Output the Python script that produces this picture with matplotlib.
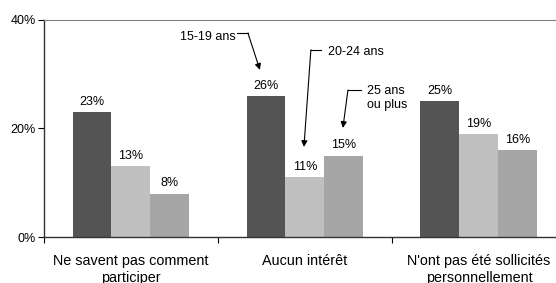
import matplotlib
matplotlib.use("Agg")
import matplotlib.pyplot as plt
import numpy as np

# Chart data
categories = ["Ne savent pas comment\nparticiper", "Aucun intérêt",
              "N'ont pas été sollicités\npersonnellement"]
age_groups = ["15-19 ans", "20-24 ans", "25 ans\nou plus"]
val_15_19 = [23, 26, 25]
val_20_24 = [13, 11, 19]
val_25_plus = [8, 15, 16]
yticks = [0, 20, 40]

colors = ["#545454", "#c0c0c0", "#a6a6a6"]

plt.rcParams["font.family"] = ["Liberation Sans", "DejaVu Sans"]

fig = plt.figure(figsize=(5.56, 2.83), dpi=100)
ax = fig.add_axes([0.0791, 0.1625, 0.9388, 0.767])

x = np.arange(len(categories))
w = 0.224
series = [val_15_19, val_20_24, val_25_plus]
for i, vals in enumerate(series):
    pos = x + (i - 1) * w
    ax.bar(pos, vals, width=w, color=colors[i], zorder=2)
    for xp, v in zip(pos, vals):
        ax.annotate(f"{v}%", (xp, v), xytext=(0, 3), textcoords="offset points",
                    ha="center", va="bottom", fontsize=9)

ax.set_xlim(-0.5, 2.5)
ax.set_ylim(0, 40)
ax.set_yticks(yticks)
ax.set_yticklabels([f"{t}%" for t in yticks], fontsize=9)
ax.set_xticks(x)
ax.set_xticklabels(categories, fontsize=10.4, va="top", linespacing=1.3)
ax.tick_params(axis="x", length=0, pad=12)
ax.set_xticks(np.arange(-0.5, 3, 1), minor=True)
ax.tick_params(axis="x", which="minor", length=4, direction="out", width=0.8)
ax.tick_params(axis="y", length=4, width=0.8, pad=2)

for s in ["left", "bottom"]:
    ax.spines[s].set_color("#333333")
    ax.spines[s].set_linewidth(1.0)
ax.spines["top"].set_color("#808080")
ax.spines["right"].set_visible(False)

# Callouts naming the age groups
akw = dict(arrowstyle="-|>", color="black", lw=0.8, mutation_scale=9,
           shrinkA=0, shrinkB=0)
# 15-19 ans
ax.plot([0.609, 0.672], [37.6, 37.6], color="black", lw=0.8)
ax.annotate("", xy=(0.741, 30.8), xytext=(0.672, 37.6), arrowprops=akw)
ax.text(0.60, 36.8, age_groups[0], ha="right", va="center", fontsize=9)
# 20-24 ans
ax.plot([1.034, 1.092], [34.5, 34.5], color="black", lw=0.8)
ax.annotate("", xy=(0.994, 16.6), xytext=(1.034, 34.5), arrowprops=akw)
ax.text(1.132, 34.1, age_groups[1], ha="left", va="center", fontsize=9)
# 25 ans ou plus
ax.plot([1.247, 1.322], [27.1, 27.1], color="black", lw=0.8)
ax.annotate("", xy=(1.218, 20.1), xytext=(1.247, 27.1), arrowprops=akw)
ax.text(1.356, 28.0, age_groups[2], ha="left", va="top", fontsize=9,
        linespacing=1.25)

fig.savefig("out.png", dpi=100)
